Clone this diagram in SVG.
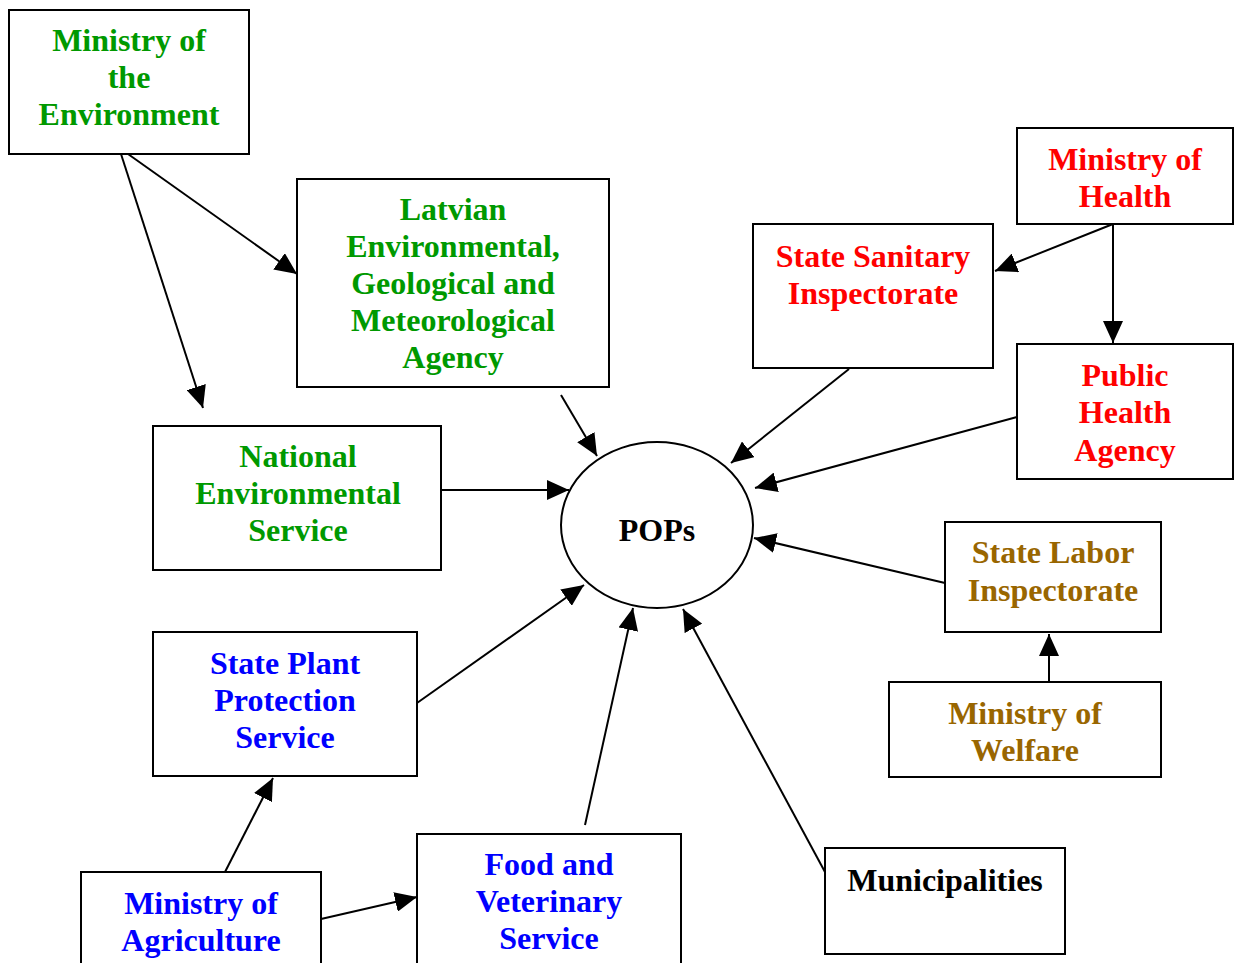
<svg xmlns="http://www.w3.org/2000/svg" width="1234" height="963" viewBox="0 0 1234 963">
<defs>
<style>
.box{fill:#fff;stroke:#000;stroke-width:2}
.t text{font-family:"Liberation Serif","DejaVu Serif","Times New Roman",serif;font-weight:bold;font-size:32px;text-anchor:middle}
.g{fill:#009900}.r{fill:#ff0000}.b{fill:#0000ff}.o{fill:#996600}.k{fill:#000}
.c line{stroke:#000;stroke-width:2;marker-end:url(#ah)}
</style>
<marker id="ah" markerUnits="userSpaceOnUse" markerWidth="22" markerHeight="20" refX="22" refY="10" orient="auto"><path d="M0,0 L22,10 L0,20 z" fill="#000"/></marker>
</defs>
<rect width="1234" height="963" fill="#fff"/>
<g class="c" id="connectors">
<line x1="121" y1="154" x2="203" y2="408"/>
<line x1="128" y1="154" x2="297" y2="274"/>
<line x1="561" y1="395" x2="597" y2="456"/>
<line x1="441" y1="490" x2="569" y2="490"/>
<line x1="417" y1="703" x2="584" y2="585"/>
<line x1="585" y1="825" x2="633" y2="608"/>
<line x1="825" y1="872" x2="683" y2="609"/>
<line x1="945" y1="583" x2="754" y2="538"/>
<line x1="1017" y1="417" x2="755" y2="488"/>
<line x1="849" y1="369" x2="731" y2="463"/>
<line x1="1113" y1="224" x2="995" y2="271"/>
<line x1="1113" y1="224" x2="1113" y2="343"/>
<line x1="1049" y1="682" x2="1049" y2="634"/>
<line x1="225" y1="872" x2="273" y2="778"/>
<line x1="321" y1="919" x2="417" y2="897"/>
</g>
<g class="t" font-family="Liberation Serif, serif">
<g id="moe"><rect class="box" x="9" y="10" width="240" height="144"/>
<text class="g" x="129" y="51">Ministry of</text><text class="g" x="129" y="88">the</text><text class="g" x="129" y="125">Environment</text></g>
<g id="legma"><rect class="box" x="297" y="179" width="312" height="208"/>
<text class="g" x="453" y="220">Latvian</text><text class="g" x="453" y="257">Environmental,</text><text class="g" x="453" y="294">Geological and</text><text class="g" x="453" y="331">Meteorological</text><text class="g" x="453" y="368">Agency</text></g>
<g id="nes"><rect class="box" x="153" y="426" width="288" height="144"/>
<text class="g" x="298" y="467">National</text><text class="g" x="298" y="504">Environmental</text><text class="g" x="298" y="541">Service</text></g>
<g id="pops"><ellipse cx="657" cy="525" rx="96" ry="83" fill="#fff" stroke="#000" stroke-width="2"/>
<text class="k" x="657" y="541">POPs</text></g>
<g id="spps"><rect class="box" x="153" y="632" width="264" height="144"/>
<text class="b" x="285" y="674">State Plant</text><text class="b" x="285" y="711">Protection</text><text class="b" x="285" y="748">Service</text></g>
<g id="moa"><rect class="box" x="81" y="872" width="240" height="100"/>
<text class="b" x="201" y="914">Ministry of</text><text class="b" x="201" y="951">Agriculture</text></g>
<g id="fvs"><rect class="box" x="417" y="834" width="264" height="140"/>
<text class="b" x="549" y="875">Food and</text><text class="b" x="549" y="912">Veterinary</text><text class="b" x="549" y="949">Service</text></g>
<g id="mun"><rect class="box" x="825" y="848" width="240" height="106"/>
<text class="k" x="945" y="891">Municipalities</text></g>
<g id="mow"><rect class="box" x="889" y="682" width="272" height="95"/>
<text class="o" x="1025" y="724">Ministry of</text><text class="o" x="1025" y="761">Welfare</text></g>
<g id="sli"><rect class="box" x="945" y="522" width="216" height="110"/>
<text class="o" x="1053" y="563">State Labor</text><text class="o" x="1053" y="601">Inspectorate</text></g>
<g id="pha"><rect class="box" x="1017" y="344" width="216" height="135"/>
<text class="r" x="1125" y="386">Public</text><text class="r" x="1125" y="423">Health</text><text class="r" x="1125" y="461">Agency</text></g>
<g id="moh"><rect class="box" x="1017" y="128" width="216" height="96"/>
<text class="r" x="1125" y="170">Ministry of</text><text class="r" x="1125" y="207">Health</text></g>
<g id="ssi"><rect class="box" x="753" y="224" width="240" height="144"/>
<text class="r" x="873" y="267">State Sanitary</text><text class="r" x="873" y="304">Inspectorate</text></g>
</g>
</svg>
